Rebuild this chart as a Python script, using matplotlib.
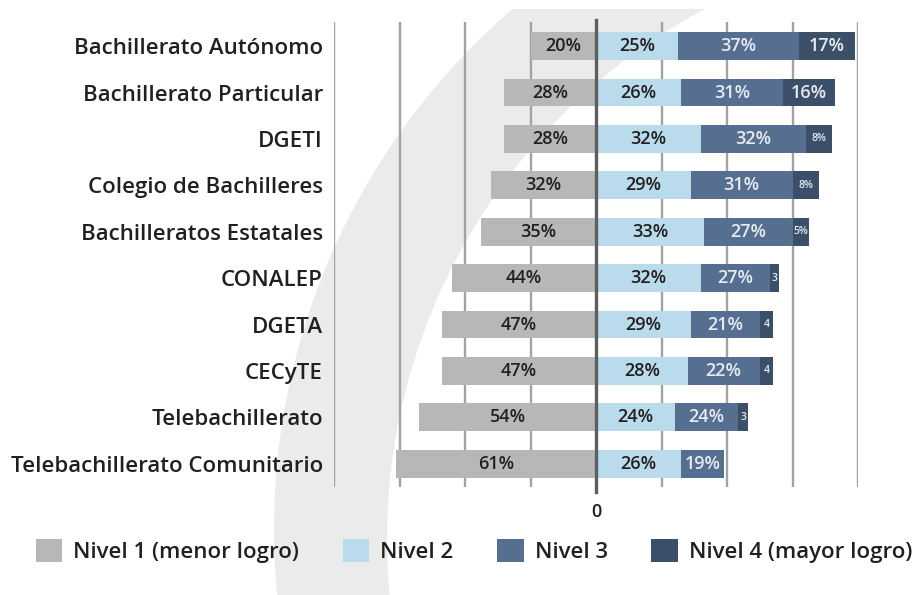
import matplotlib
matplotlib.use("Agg")
import matplotlib.pyplot as plt
from matplotlib.patches import Circle, Rectangle, Patch
from matplotlib.transforms import blended_transform_factory

categories = ["Bachillerato Autónomo", "Bachillerato Particular", "DGETI",
              "Colegio de Bachilleres", "Bachilleratos Estatales", "CONALEP",
              "DGETA", "CECyTE", "Telebachillerato", "Telebachillerato Comunitario"]
# segment lengths as drawn in the picture
nivel1 = [20, 28, 28, 32, 35, 44, 47, 47, 54, 61]
nivel2 = [25, 26, 32, 29, 33, 32, 29, 28, 24, 26]
nivel3 = [37, 31, 32, 31, 27, 21, 21, 22, 19.5, 13]
nivel4 = [17, 16, 8, 8, 5, 3, 4, 4, 3, 0]
# printed labels
label1 = ["20%", "28%", "28%", "32%", "35%", "44%", "47%", "47%", "54%", "61%"]
label2 = ["25%", "26%", "32%", "29%", "33%", "32%", "29%", "28%", "24%", "26%"]
label3 = ["37%", "31%", "32%", "31%", "27%", "27%", "21%", "22%", "24%", "19%"]
label4 = ["17%", "16%", "8%", "8%", "5%", "3", "4", "4", "3", ""]
legend_labels = ["Nivel 1 (menor logro)", "Nivel 2", "Nivel 3", "Nivel 4 (mayor logro)"]
grid_ticks = [-80, -60, -40, -20, 20, 40, 60, 80]

c1, c2, c3, c4 = "#b6b7b9", "#b9dbeb", "#566e8f", "#3c4f69"
dark = "#231f20"
light = "#e6ebf2"
FONT = "Open Sans"
plt.rcParams["font.family"] = [FONT, "DejaVu Sans"]
WT = "semibold"

W, H = 918, 595
fig = plt.figure(figsize=(W / 100, H / 100), dpi=100)

# background watermark (crescent)
bg = fig.add_axes([0, 0, 1, 1], zorder=0)
bg.set_xlim(0, W)
bg.set_ylim(H, 0)
bg.axis("off")
bg.add_patch(Circle((960, 529), 686, color="#ebebeb", lw=0))
bg.add_patch(Circle((988, 539), 601, color="white", lw=0))
bg.add_patch(Rectangle((0, 0), W, 9, color="white", lw=0))

ax = fig.add_axes([334 / W, 1 - 487 / H, 524 / W, 465 / H], zorder=1)
ax.patch.set_alpha(0)
ax.set_xlim(-80, 80)
ax.set_ylim(9.5, -0.52)

y = list(range(len(categories)))
for g in grid_ticks:
    ax.axvline(g, color="#a2a2a2", lw=1.7, zorder=1)

bh = 0.6
ax.barh(y, [-v for v in nivel1], height=bh, color=c1, zorder=2, lw=0)
ax.barh(y, nivel2, height=bh, color=c2, zorder=2, lw=0)
left3 = nivel2
ax.barh(y, nivel3, left=left3, height=bh, color=c3, zorder=2, lw=0)
left4 = [a + b for a, b in zip(nivel2, nivel3)]
ax.barh(y, nivel4, left=left4, height=bh, color=c4, zorder=2, lw=0)

ax.axvline(0, ymin=-0.01, ymax=1.004, color="#5e5e5e", lw=2.4, zorder=5, clip_on=False)

fs_val = 13
for i in y:
    ax.text(-nivel1[i] / 2, i, label1[i], ha="center", va="center", fontsize=fs_val, color=dark, zorder=6, weight=WT)
    ax.text(nivel2[i] / 2, i, label2[i], ha="center", va="center", fontsize=fs_val, color=dark, zorder=6, weight=WT)
    ax.text(left3[i] + nivel3[i] / 2, i, label3[i], ha="center", va="center", fontsize=fs_val, color=light, zorder=6, weight=WT)
    if label4[i]:
        small = nivel4[i] < 10
        ax.text(left4[i] + nivel4[i] / 2, i, label4[i], ha="center", va="center",
                fontsize=7.5 if small else fs_val, color=light, zorder=6, weight=WT)

for s in ax.spines.values():
    s.set_visible(False)
ax.set_xticks([])
ax.set_yticks(y)
ax.set_yticklabels(categories, fontsize=16, color=dark, weight=WT)
ax.tick_params(axis="y", length=0, pad=8)

tr = blended_transform_factory(ax.transData, ax.transAxes)
ax.text(0, -25 / 465, "0", transform=tr, ha="center", va="center", fontsize=13, color=dark, weight=WT)

handles = [Patch(facecolor=c, edgecolor="none") for c in (c1, c2, c3, c4)]
fig.legend(handles, legend_labels, loc="center", bbox_to_anchor=(474 / W, 1 - 551 / H),
           ncol=4, frameon=False, prop={"size": 16, "weight": WT}, handlelength=1.2, handleheight=1.2,
           handletextpad=0.5, columnspacing=1.95, labelcolor=dark)

fig.savefig("out.png", dpi=100)
